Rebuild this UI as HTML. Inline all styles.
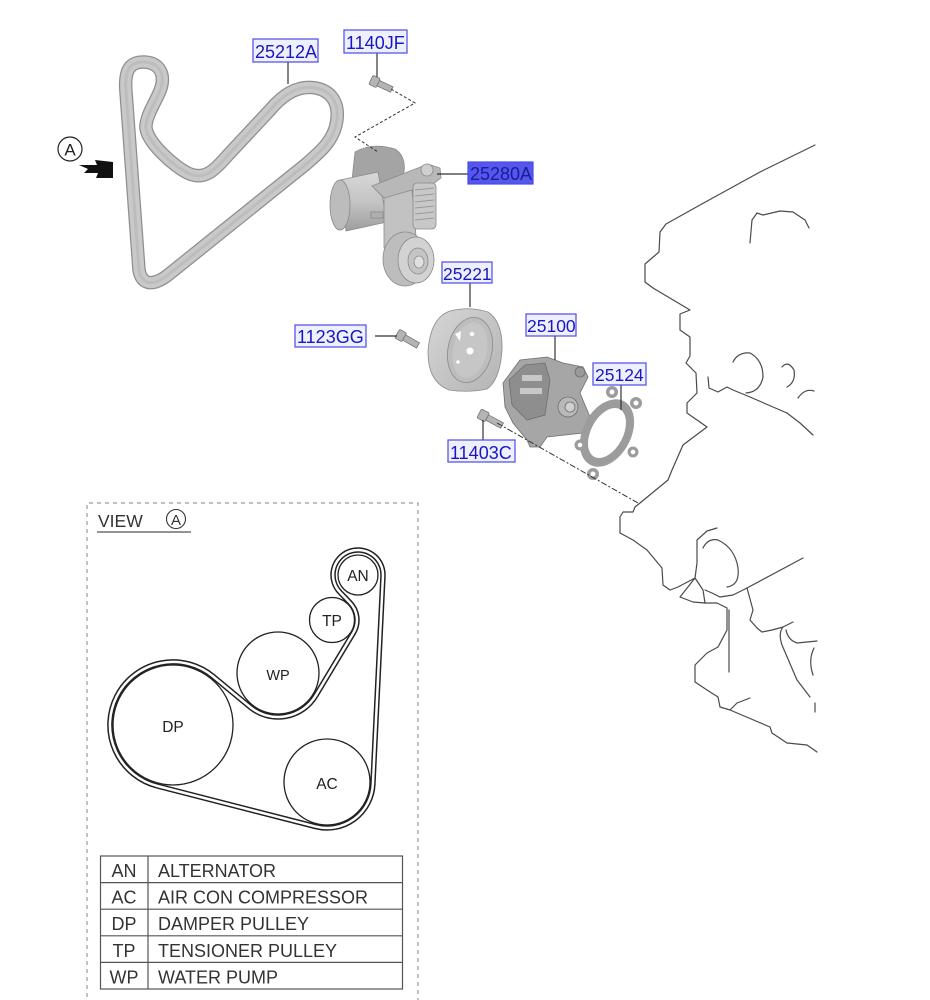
<!DOCTYPE html>
<html>
<head>
<meta charset="utf-8">
<style>
html,body{margin:0;padding:0;background:#fff;}
body{width:930px;height:1000px;overflow:hidden;position:relative;}
svg{position:absolute;left:0;top:0;}
text{font-family:"Liberation Sans",Arial,sans-serif;}
</style>
</head>
<body>
<svg width="930" height="1000" viewBox="0 0 930 1000" xmlns="http://www.w3.org/2000/svg">
<defs>
  <linearGradient id="gBelt" x1="0" y1="0" x2="1" y2="1">
    <stop offset="0" stop-color="#d2d2d2"/><stop offset="1" stop-color="#bcbcbc"/>
  </linearGradient>
  <linearGradient id="gCyl" x1="0" y1="0" x2="0" y2="1">
    <stop offset="0" stop-color="#d8d8d8"/><stop offset="0.5" stop-color="#c4c4c4"/><stop offset="1" stop-color="#9e9e9e"/>
  </linearGradient>
  <linearGradient id="gDrum" x1="0" y1="0" x2="1" y2="1">
    <stop offset="0" stop-color="#d6d6d6"/><stop offset="1" stop-color="#b4b4b4"/>
  </linearGradient>
</defs>

<!-- ===== Engine outline ===== -->
<g fill="none" stroke="#4a4a4a" stroke-width="1.2" stroke-linejoin="round" stroke-linecap="round">
  <path d="M815 145 L760 172 L700 205 L666 224 L660 232 L659 252 L652 258 L645 264 L645 282 L653 288 L690 310 L680 314 L680 330 L690 337 L690 356 L686 363 L696 373 L697 393 L687 403 L687 413 L707 427 L683 445 L672 470 L668 480 L640 503 L635 507 L633 512 L623 512 L620 517 L620 533 L633 540 L647 550 L662 568 L663 585 L670 590 L678 587 L695 578"/>
  <path d="M717 528 L707 531 L697 540 L697 563 L695 578 L680 597 L693 602 L705 603 L703 590 L695 578"/>
  <path d="M703 548 Q708 538 718 540 Q735 548 738 568 Q740 585 727 587"/>
  <path d="M705 590 L712 593 L720 597 L733 595 L747 588 L803 558"/>
  <path d="M747 588 L753 610 L750 620 L757 628 L762 632 L772 630 L783 627 L793 622"/>
  <path d="M729 610 L729 672"/>
  <path d="M705 603 L717 603 L727 608 L727 630 L718 647 L707 653 L695 665 L695 682 L707 690 L718 697 L720 707 L730 710 L737 703 L750 698"/>
  <path d="M730 710 L770 727 L772 733 L787 743 L807 745 L817 752"/>
  <path d="M783 627 Q778 633 782 645 L797 680 L810 697"/>
  <path d="M786 630 Q788 640 797 643 L817 641"/>
  <path d="M814 648 Q808 660 813 675"/>
  <path d="M815 703 L815 712"/>
  <path d="M750 243 L752 220 L757 213 L763 215 L780 211 L793 212 L805 220 L809 228"/>
  <path d="M708 377 L709 388 L718 392 L727 387 L733 390 L750 397 L773 407 L787 413 L800 423 L813 435"/>
  <path d="M733 362 Q738 352 750 353 Q763 360 763 377 Q760 392 746 393"/>
  <path d="M782 367 Q788 360 794 370 Q796 382 787 387"/>
  <path d="M798 398 Q805 388 814 391"/>
</g>

<!-- ===== Belt 25212A ===== -->
<g fill="none" stroke-linejoin="round">
  <path d="M126 92 C124 70 130 62 143 62 C158 62 164 72 162 84 C160 96 148 110 146 125 C144 140 175 168 190 174 C205 180 215 170 228 155 L270 110 C285 92 300 85 316 88 C335 92 340 108 336 125 C332 142 320 152 305 165 L168 275 C155 285 142 287 139 270 Z" stroke="#8e8e8e" stroke-width="13.5"/>
  <path d="M126 92 C124 70 130 62 143 62 C158 62 164 72 162 84 C160 96 148 110 146 125 C144 140 175 168 190 174 C205 180 215 170 228 155 L270 110 C285 92 300 85 316 88 C335 92 340 108 336 125 C332 142 320 152 305 165 L168 275 C155 285 142 287 139 270 Z" stroke="#c9c9c9" stroke-width="11"/>
  <path d="M126 92 C124 70 130 62 143 62 C158 62 164 72 162 84 C160 96 148 110 146 125 C144 140 175 168 190 174 C205 180 215 170 228 155 L270 110 C285 92 300 85 316 88 C335 92 340 108 336 125 C332 142 320 152 305 165 L168 275 C155 285 142 287 139 270 Z" stroke="#bdbdbd" stroke-width="3"/>
</g>

<!-- A marker and arrow -->
<circle cx="70" cy="149" r="12" fill="#fff" stroke="#222" stroke-width="1.2"/>
<text x="70" y="155.5" font-size="17" text-anchor="middle" fill="#222">A</text>
<polygon points="79,165 97,165 95,160 113,162 113,178 96,178 98,173 84,173 88,169" fill="#111"/>

<!-- ===== Tensioner 25280A ===== -->
<g stroke="#8a8a8a" stroke-width="0.8">
  <path d="M355 152 Q372 142 395 149 Q406 156 404 172 L400 184 L368 190 L352 180 Z" fill="#a4a4a4"/>
  <path d="M340 180 L378 172 L387 222 L346 231 Z" fill="url(#gCyl)"/>
  <ellipse cx="340" cy="205" rx="10" ry="25" fill="#bcbcbc"/>
  <rect x="371" y="212" width="12" height="6" fill="#b0b0b0"/>
  <path d="M372 186 L428 164 L440 168 L441 178 L433 184 L388 202 Z" fill="#b8b8b8"/>
  <path d="M384 198 L412 190 L416 236 L400 260 L384 248 Z" fill="#c2c2c2"/>
  <rect x="413" y="183" width="23" height="46" rx="4" fill="#c8c8c8"/>
  <g stroke="#9a9a9a" stroke-width="1">
    <line x1="415" y1="190" x2="434" y2="188"/><line x1="415" y1="196" x2="434" y2="194"/>
    <line x1="415" y1="202" x2="434" y2="200"/><line x1="415" y1="208" x2="434" y2="206"/>
    <line x1="415" y1="214" x2="434" y2="212"/><line x1="415" y1="220" x2="434" y2="218"/>
  </g>
  <circle cx="427" cy="170" r="6" fill="#cfcfcf"/>
  <ellipse cx="405" cy="259" rx="22" ry="27" fill="#bdbdbd"/>
  <ellipse cx="416" cy="260" rx="18" ry="23" fill="#d2d2d2"/>
  <ellipse cx="418" cy="261" rx="10" ry="13" fill="#c4c4c4"/>
  <ellipse cx="419" cy="262" rx="5" ry="6" fill="#e0e0e0"/>
</g>

<!-- ===== Pulley 25221 ===== -->
<g stroke="#8a8a8a" stroke-width="0.8">
  <path d="M450 311 Q470 306 488 312 Q503 322 502 350 Q500 380 487 389 Q468 393 449 390 Q428 382 428 352 Q430 318 450 311 Z" fill="url(#gDrum)"/>
  <ellipse cx="470" cy="350" rx="22" ry="33" transform="rotate(12 470 350)" fill="#bdbdbd"/>
  <ellipse cx="470" cy="350" rx="17" ry="28" transform="rotate(12 470 350)" fill="#c6c6c6" stroke="none"/>
  <circle cx="470" cy="351" r="3.5" fill="#fff" stroke="none"/>
  <circle cx="472" cy="334" r="2.2" fill="#fff" stroke="none"/>
  <polygon points="455,334 461,331 460,341" fill="#fff" stroke="none"/>
  <circle cx="458" cy="362" r="1.8" fill="#fff" stroke="none"/>
</g>

<!-- ===== Water pump 25100 ===== -->
<g stroke="#6e6e6e" stroke-width="0.8">
  <path d="M503 383 L520 360 L547 357 L563 363 L583 367 L588 377 L580 393 L590 417 L583 433 L547 437 L540 447 L530 447 L527 440 L513 423 L505 407 Z" fill="#a6a6a6"/>
  <path d="M509 380 L525 365 L545 363 L550 380 L545 415 L527 420 L512 405 Z" fill="#8e8e8e"/>
  <rect x="522" y="375" width="20" height="6" fill="#c8c8c8" stroke="none"/>
  <rect x="520" y="388" width="22" height="6" fill="#c8c8c8" stroke="none"/>
  <circle cx="568" cy="407" r="10" fill="#b8b8b8"/>
  <circle cx="570" cy="407" r="5" fill="#d0d0d0"/>
  <circle cx="580" cy="372" r="5" fill="#9a9a9a"/>
</g>

<!-- ===== Gasket 25124 ===== -->
<g>
  <ellipse cx="607" cy="433" rx="24" ry="36" transform="rotate(28 607 433)" fill="#9c9c9c"/>
  <circle cx="612" cy="392" r="6" fill="#9c9c9c"/>
  <circle cx="636" cy="403" r="6" fill="#9c9c9c"/>
  <circle cx="633" cy="452" r="5.5" fill="#9c9c9c"/>
  <circle cx="593" cy="474" r="6" fill="#9c9c9c"/>
  <circle cx="580" cy="445" r="5.5" fill="#9c9c9c"/>
  <ellipse cx="607" cy="433" rx="16" ry="27" transform="rotate(28 607 433)" fill="#fff"/>
  <circle cx="612" cy="392" r="2.5" fill="#fff"/>
  <circle cx="636" cy="403" r="2.5" fill="#fff"/>
  <circle cx="633" cy="452" r="2.3" fill="#fff"/>
  <circle cx="593" cy="474" r="2.5" fill="#fff"/>
  <circle cx="580" cy="445" r="2.3" fill="#fff"/>
</g>

<!-- ===== Bolts ===== -->
<g fill="#b4b4b4" stroke="#777" stroke-width="0.8">
  <g transform="rotate(25 380 84)">
    <rect x="370" y="79" width="8" height="10" rx="1.5"/>
    <rect x="378" y="81" width="15" height="6"/>
  </g>
  <g transform="rotate(30 405 338)">
    <rect x="396" y="333" width="8" height="10" rx="1.5"/>
    <rect x="404" y="335" width="16" height="6"/>
  </g>
  <g transform="rotate(28 488 418)">
    <rect x="478" y="413" width="9" height="10" rx="1.5"/>
    <rect x="487" y="415" width="17" height="6"/>
  </g>
</g>

<!-- ===== Connectors ===== -->
<g fill="none" stroke="#333" stroke-width="1.2">
  <line x1="288" y1="62" x2="288" y2="84"/>
  <line x1="377" y1="53" x2="377" y2="77"/>
  <line x1="437" y1="174" x2="468" y2="174"/>
  <line x1="470" y1="283" x2="470" y2="307"/>
  <line x1="375" y1="336" x2="397" y2="336"/>
  <line x1="555" y1="336" x2="555" y2="360"/>
  <line x1="621" y1="385" x2="621" y2="410"/>
  <line x1="483" y1="420" x2="483" y2="440"/>
  <polyline points="391,89 415,103 355,137 378,152" stroke-dasharray="3 2" stroke-width="1"/>
  <line x1="497" y1="423" x2="638" y2="503" stroke-dasharray="6 2 2 2" stroke-width="1"/>
</g>

<!-- ===== Labels ===== -->
<g font-size="18" fill="#1818c0">
  <rect x="253" y="39" width="65" height="23" fill="#eef0ff" stroke="#4a4ae8" stroke-width="1.2"/>
  <text x="255" y="58">25212A</text>
  <rect x="344" y="30" width="63" height="23" fill="#eef0ff" stroke="#4a4ae8" stroke-width="1.2"/>
  <text x="346" y="49">1140JF</text>
  <rect x="468" y="162" width="65" height="22" fill="#5656ee" stroke="#4a4ae8" stroke-width="1.2"/>
  <text x="470" y="180" fill="#1c1c96">25280A</text>
  <rect x="442" y="262" width="50" height="21" fill="#eef0ff" stroke="#4a4ae8" stroke-width="1.2"/>
  <text x="443" y="280" font-size="17.5">25221</text>
  <rect x="295" y="325" width="71" height="22" fill="#eef0ff" stroke="#4a4ae8" stroke-width="1.2"/>
  <text x="297" y="343">1123GG</text>
  <rect x="526" y="314" width="50" height="22" fill="#eef0ff" stroke="#4a4ae8" stroke-width="1.2"/>
  <text x="527" y="332" font-size="17.5">25100</text>
  <rect x="593" y="363" width="53" height="22" fill="#eef0ff" stroke="#4a4ae8" stroke-width="1.2"/>
  <text x="595" y="381" font-size="17.5">25124</text>
  <rect x="448" y="440" width="67" height="22" fill="#eef0ff" stroke="#4a4ae8" stroke-width="1.2"/>
  <text x="450" y="459">11403C</text>
</g>

<!-- ===== VIEW A box ===== -->
<path d="M87 1005 L87 503 L418 503 L418 1005" fill="none" stroke="#9a9a9a" stroke-width="1.2" stroke-dasharray="4 4"/>
<text x="98" y="527" font-size="17.5" fill="#333">VIEW</text>
<circle cx="176" cy="519" r="9.5" fill="#fff" stroke="#333" stroke-width="1.1"/>
<text x="176" y="525" font-size="15" text-anchor="middle" fill="#333">A</text>
<line x1="97" y1="532" x2="191" y2="532" stroke="#555" stroke-width="1.3"/>

<!-- pulleys -->
<g fill="#fff" stroke="#222" stroke-width="1.3">
  <circle cx="173" cy="725" r="60"/>
  <circle cx="278" cy="673" r="41"/>
  <circle cx="332" cy="620" r="22.5"/>
  <circle cx="358" cy="575" r="20"/>
  <circle cx="327" cy="782" r="43"/>
</g>
<!-- belt (double line) -->
<path d="M157.4 786 A63 63 0 1 1 213.2 676.5 L249.95 706.9 A44 44 0 0 0 315.7 695.7 L353.4 632.9 A25 25 0 0 0 349.9 602.6 L340.1 592.4 A25 25 0 1 1 382.97 576.2 L372.9 784.2 A46 46 0 0 1 315.6 826.6 Z" fill="none" stroke="#222" stroke-width="5.5" stroke-linejoin="round"/>
<path d="M157.4 786 A63 63 0 1 1 213.2 676.5 L249.95 706.9 A44 44 0 0 0 315.7 695.7 L353.4 632.9 A25 25 0 0 0 349.9 602.6 L340.1 592.4 A25 25 0 1 1 382.97 576.2 L372.9 784.2 A46 46 0 0 1 315.6 826.6 Z" fill="none" stroke="#fff" stroke-width="2.5" stroke-linejoin="round"/>
<g font-size="15.5" fill="#222" text-anchor="middle">
  <text x="173" y="732">DP</text>
  <text x="278" y="680" font-size="14.5">WP</text>
  <text x="332" y="626">TP</text>
  <text x="358" y="581">AN</text>
  <text x="327" y="789">AC</text>
</g>

<!-- table -->
<g fill="none" stroke="#555" stroke-width="1.2">
  <rect x="100.5" y="856" width="302" height="133"/>
  <line x1="100.5" y1="882.6" x2="402.5" y2="882.6"/>
  <line x1="100.5" y1="909.2" x2="402.5" y2="909.2"/>
  <line x1="100.5" y1="935.8" x2="402.5" y2="935.8"/>
  <line x1="100.5" y1="962.4" x2="402.5" y2="962.4"/>
  <line x1="148" y1="856" x2="148" y2="989"/>
</g>
<g font-size="18" fill="#333">
  <text x="124" y="877" text-anchor="middle">AN</text>
  <text x="158" y="877">ALTERNATOR</text>
  <text x="124" y="903.6" text-anchor="middle">AC</text>
  <text x="158" y="903.6">AIR CON COMPRESSOR</text>
  <text x="124" y="930.2" text-anchor="middle">DP</text>
  <text x="158" y="930.2">DAMPER PULLEY</text>
  <text x="124" y="956.8" text-anchor="middle">TP</text>
  <text x="158" y="956.8">TENSIONER PULLEY</text>
  <text x="124" y="983.4" text-anchor="middle">WP</text>
  <text x="158" y="983.4">WATER PUMP</text>
</g>
</svg>
</body>
</html>
